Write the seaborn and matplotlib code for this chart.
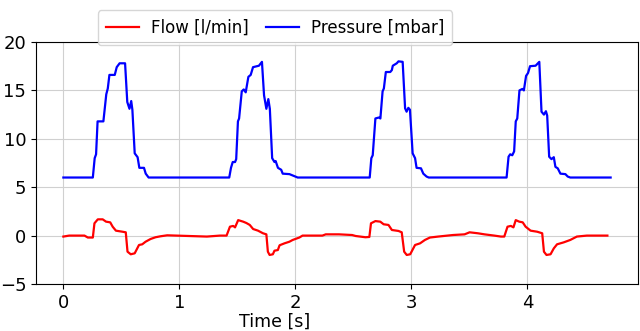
import matplotlib
matplotlib.use("Agg")
import matplotlib.pyplot as plt
import seaborn as sns
import pandas as pd

# Pressure [mbar] breakpoints (time [s], value)
pressure_t = [0.0, 0.254, 0.27, 0.282, 0.295, 0.345, 0.37, 0.383, 0.397, 0.443, 0.46, 0.485, 0.532,
              0.551, 0.57, 0.585, 0.595, 0.615, 0.64, 0.655, 0.695, 0.71, 0.735,
              1.430, 1.445, 1.46, 1.48, 1.49, 1.505, 1.515, 1.538, 1.555, 1.572, 1.595, 1.615, 1.635,
              1.686, 1.712, 1.73, 1.75, 1.767, 1.78, 1.80, 1.82, 1.83, 1.85, 1.878, 1.891, 1.949, 2.0, 2.02,
              2.641, 2.655, 2.667, 2.690, 2.72, 2.733, 2.752, 2.763, 2.780, 2.818, 2.832, 2.84, 2.874,
              2.889, 2.925, 2.946, 2.959, 2.974, 2.988, 3.011, 3.032, 3.045, 3.083, 3.103, 3.131, 3.15,
              3.821, 3.838, 3.852, 3.87, 3.886, 3.90, 3.913, 3.932, 3.957, 3.97, 3.989, 4.006, 4.023,
              4.071, 4.103, 4.122, 4.143, 4.16, 4.171, 4.188, 4.208, 4.228, 4.242, 4.262, 4.285, 4.328,
              4.348, 4.37, 4.718]
pressure_v = [6.0, 6.0, 8.0, 8.4, 11.8, 11.8, 14.6, 15.2, 16.6, 16.6, 17.4, 17.8, 17.8,
              13.8, 13.1, 13.9, 13.0, 8.5, 8.1, 7.0, 7.0, 6.4, 6.0,
              6.0, 7.0, 7.6, 7.6, 7.9, 11.8, 12.1, 14.9, 15.1, 14.8, 16.4, 16.6, 17.4,
              17.55, 17.95, 14.5, 13.1, 14.1, 13.1, 8.0, 7.6, 7.7, 7.0, 6.8, 6.4, 6.35, 6.1, 6.0,
              6.0, 8.0, 8.3, 12.1, 12.2, 12.1, 14.9, 15.2, 16.9, 16.9, 17.1, 17.55, 17.8,
              18.0, 17.95, 13.15, 12.8, 13.2, 13.0, 8.5, 8.0, 7.0, 6.95, 6.4, 6.1, 6.0,
              6.0, 8.15, 8.4, 8.3, 8.7, 11.8, 12.1, 15.0, 15.15, 15.0, 16.5, 16.8, 17.5,
              17.55, 17.95, 12.8, 12.5, 12.85, 12.4, 8.15, 7.9, 8.1, 7.1, 6.95, 6.4, 6.35,
              6.1, 6.0, 6.0]

# Flow [l/min] breakpoints (time [s], value)
flow_t = [0.0, 0.05, 0.182, 0.211, 0.254, 0.268, 0.297, 0.339, 0.368, 0.404, 0.425, 0.453, 0.51, 0.538,
          0.553, 0.581, 0.615, 0.652, 0.68, 0.709, 0.752, 0.795, 0.838, 0.895, 1.237, 1.35, 1.407,
          1.436, 1.464, 1.48, 1.507, 1.55, 1.578, 1.607, 1.636, 1.678, 1.721, 1.75,
          1.763, 1.778, 1.806, 1.82, 1.849, 1.864, 1.906, 1.949, 1.977, 2.034, 2.062, 2.233, 2.262,
          2.376, 2.49, 2.519, 2.604, 2.638,
          2.652, 2.69, 2.732, 2.761, 2.803, 2.832, 2.889, 2.917, 2.938, 2.96, 2.99, 3.032, 3.075,
          3.117, 3.16, 3.231, 3.359, 3.459, 3.502, 3.573, 3.63, 3.715, 3.772, 3.801,
          3.829, 3.858, 3.88, 3.9, 3.93, 3.96, 3.985, 4.028, 4.085, 4.128, 4.143, 4.165, 4.2,
          4.228, 4.256, 4.313, 4.37, 4.427, 4.513, 4.69]
flow_v = [-0.1, 0.0, 0.0, -0.2, -0.2, 1.27, 1.68, 1.68, 1.44, 1.37, 0.92, 0.51, 0.4, 0.34,
          -1.66, -1.93, -1.83, -0.97, -0.9, -0.63, -0.35, -0.17, -0.07, 0.03, -0.1, 0.0, 0.0,
          0.92, 1.0, 0.85, 1.6, 1.44, 1.3, 1.1, 0.68, 0.51, 0.24, 0.13,
          -1.66, -2.0, -1.93, -1.56, -1.49, -1.0, -0.8, -0.63, -0.45, -0.2, 0.0, 0.0, 0.13,
          0.13, 0.06, -0.04, -0.17, -0.14,
          1.27, 1.5, 1.44, 1.17, 1.1, 0.58, 0.48, 0.34, -1.66, -2.0, -1.93, -0.97, -0.8,
          -0.45, -0.2, -0.1, 0.06, 0.13, 0.34, 0.24, 0.13, 0.0, -0.1, -0.1,
          0.92, 1.0, 0.85, 1.6, 1.44, 1.37, 0.92, 0.51, 0.4, 0.24, -1.66, -2.0, -1.93,
          -1.32, -0.9, -0.7, -0.45, -0.1, 0.0, 0.0]

x_ticks = [0, 1, 2, 3, 4]
y_ticks = [-5, 0, 5, 10, 15, 20]

plt.rcParams['font.family'] = ['DejaVu Sans']
plt.rcParams['font.size'] = 12

fig, ax = plt.subplots(figsize=(6.4, 3.31), dpi=100)
fig.subplots_adjust(left=36/640, right=638/640, top=1-42/331, bottom=1-284/331)

flow_df = pd.DataFrame({"t": flow_t, "v": flow_v})
pres_df = pd.DataFrame({"t": pressure_t, "v": pressure_v})
sns.lineplot(data=flow_df, x="t", y="v", color="red", linewidth=1.6, estimator=None,
             ax=ax, label="Flow [l/min]")
sns.lineplot(data=pres_df, x="t", y="v", color="blue", linewidth=1.6, estimator=None,
             ax=ax, label="Pressure [mbar]")

ax.set_ylim(-5, 20)
ax.set_xticks(x_ticks)
ax.set_yticks(y_ticks)
ax.tick_params(labelsize=13)
ax.grid(True, color="#d0d0d0", linewidth=0.8)
ax.set_xlabel("Time [s]", fontsize=12.5)
ax.xaxis.set_label_coords((275 - 36) / 602, -0.12)
ax.set_ylabel("")

handles, labels = ax.get_legend_handles_labels()
ax.get_legend().remove()
fig.legend(handles, labels, loc="upper center", bbox_to_anchor=(275/640, 1-2/331), ncol=2,
           fontsize=12, columnspacing=1.0, handletextpad=0.7, borderpad=0.5)

fig.savefig("out.png", dpi=100)
